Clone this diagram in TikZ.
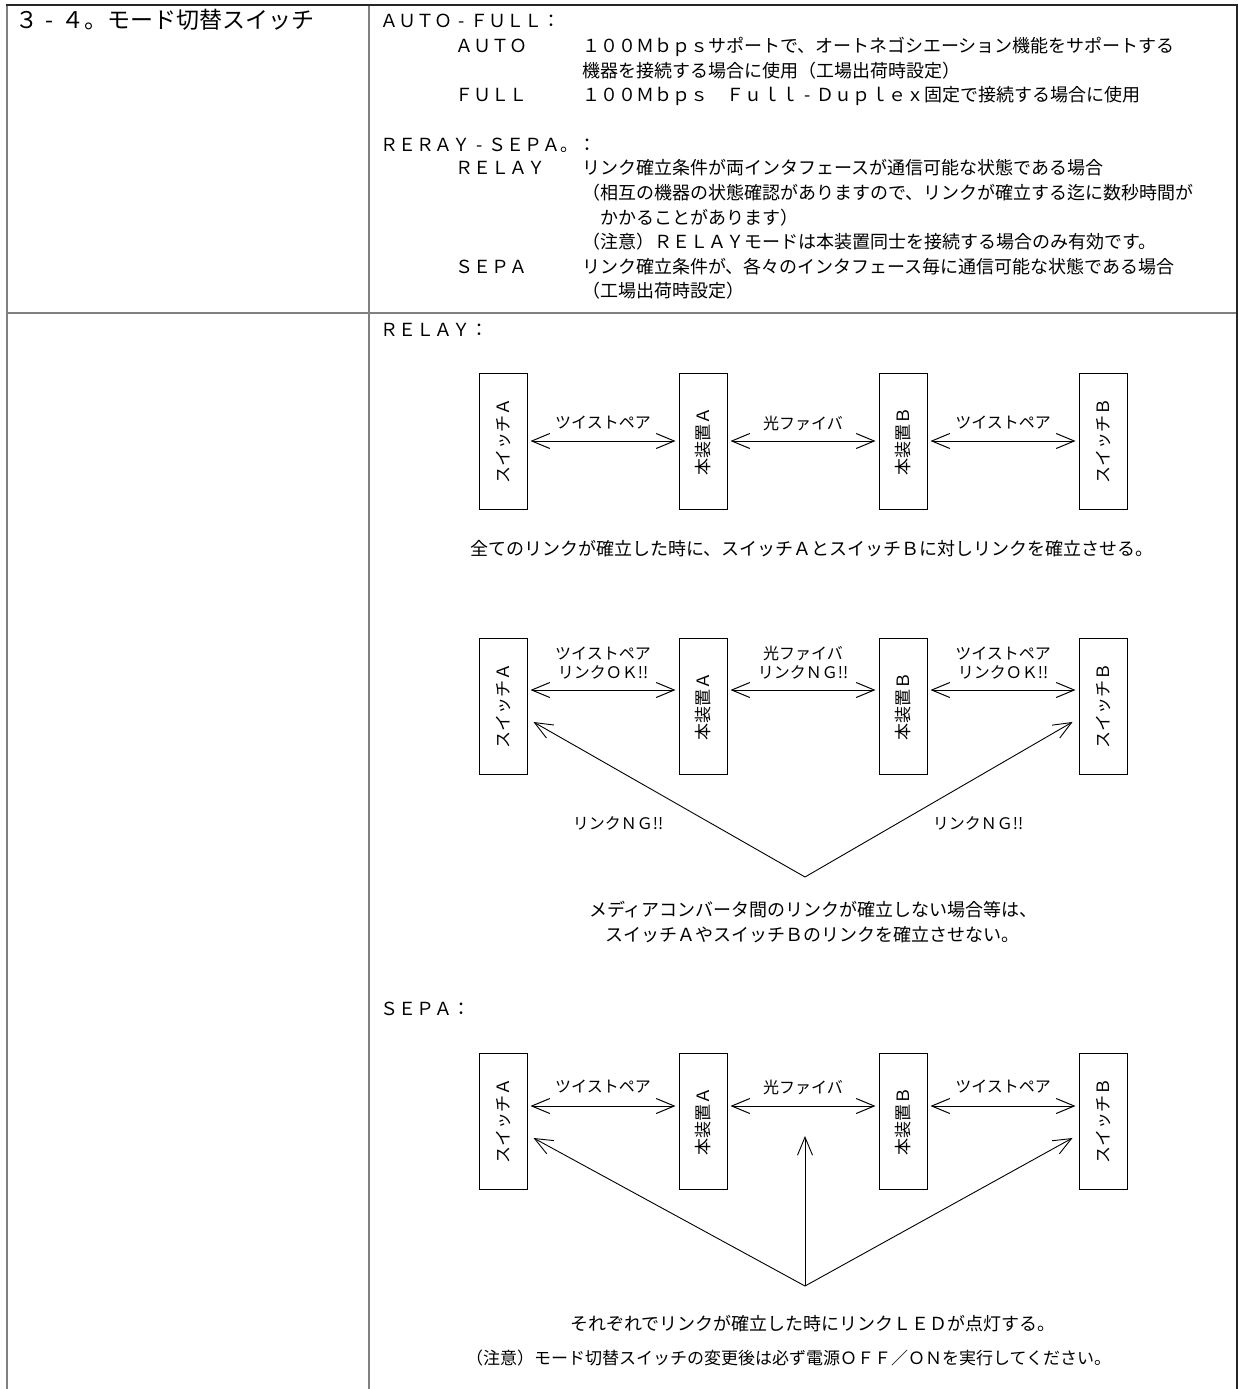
\documentclass[tikz,border=0pt]{standalone}
\usepackage{fontspec}
\setmainfont{Noto Sans CJK JP}
\usepackage{graphicx}
\usetikzlibrary{arrows.meta}
\newcommand{\hy}{\makebox[1em]{-}}

\begin{document}
\begin{tikzpicture}[x=1pt,y=-1pt,
  txt/.style={anchor=west,inner sep=0pt,text height=0.88em,text depth=0.12em,font=\fontsize{18pt}{22pt}\selectfont},
  lbl/.style={anchor=center,inner sep=0pt,align=center,font=\fontsize{16pt}{19pt}\selectfont},
  unit/.style={draw,line width=1pt,minimum width=48pt,minimum height=136pt,inner sep=0pt,font=\fontsize{17pt}{20pt}\selectfont},
  link/.style={line width=1pt,shorten <=3pt,shorten >=3pt,{Straight Barb[length=18pt,width=15pt]}-{Straight Barb[length=18pt,width=15pt]}},
  ray/.style={line width=0.9pt,-{Straight Barb[length=18pt,width=15pt]}},
  rule/.style={line width=2pt,draw=black!50},
  edge/.style={line width=2pt,draw=black!85}]
\useasboundingbox (0,0) rectangle (1239,1389);

% frame of the table
\draw[edge] (6,5) -- (1237,5) -- (1237,1389);
\draw[rule] (7,6) -- (7,1389);
\draw[rule] (369,6) -- (369,1389);
\draw[rule] (8,313) -- (1236,313);

% left column
\node[txt,font=\fontsize{23pt}{27pt}\selectfont] (title) at (15,25) {３\hy ４。モード切替スイッチ};

% upper right cell
\node[txt] (autofull) at (380,24) {ＡＵＴＯ\hy ＦＵＬＬ：};
\node[txt] (auto) at (455,49) {ＡＵＴＯ};
\node[txt] (autoa) at (582,49) {１００Ｍｂｐｓサポートで、オートネゴシエーション機能をサポートする};
\node[txt] (autob) at (582,74) {機器を接続する場合に使用（工場出荷時設定）};
\node[txt] (full) at (455,98) {ＦＵＬＬ};
\node[txt] (fulla) at (582,98) {１００Ｍｂｐｓ　Ｆｕｌｌ\hy Ｄｕｐｌｅｘ固定で接続する場合に使用};
\node[txt] (relaysepa) at (380,148) {ＲＥＲＡＹ\hy ＳＥＰＡ。：};
\node[txt] (relay) at (455,171) {ＲＥＬＡＹ};
\node[txt] (relaya) at (582,171) {リンク確立条件が両インタフェースが通信可能な状態である場合};
\node[txt] (relayb) at (582,196) {（相互の機器の状態確認がありますので、リンクが確立する迄に数秒時間が};
\node[txt] (relayc) at (582,221) {　かかることがあります）};
\node[txt] (relayd) at (582,245) {（注意）ＲＥＬＡＹモードは本装置同士を接続する場合のみ有効です。};
\node[txt] (sepa) at (455,270) {ＳＥＰＡ};
\node[txt] (sepaa) at (582,270) {リンク確立条件が、各々のインタフェース毎に通信可能な状態である場合};
\node[txt] (sepab) at (582,294) {（工場出荷時設定）};

% RELAY, all links up
\node[txt] (relayhead) at (380,333) {ＲＥＬＡＹ：};
\node[unit] (swA1) at (503,441) {\rotatebox{90}{スイッチＡ}};
\node[unit] (unitA1) at (703,441) {\rotatebox{90}{本装置Ａ}};
\node[unit] (unitB1) at (903,441) {\rotatebox{90}{本装置Ｂ}};
\node[unit] (swB1) at (1103,441) {\rotatebox{90}{スイッチＢ}};
\draw[link] (swA1) -- (unitA1);
\draw[link] (unitA1) -- (unitB1);
\draw[link] (unitB1) -- (swB1);
\node[lbl] (tpA1) at (603,423) {ツイストペア};
\node[lbl] (fib1) at (803,423) {光ファイバ};
\node[lbl] (tpB1) at (1003,423) {ツイストペア};
\node[txt] (note1) at (470,552) {全てのリンクが確立した時に、スイッチＡとスイッチＢに対しリンクを確立させる。};

% RELAY, fibre link down
\node[unit] (swA2) at (503,706) {\rotatebox{90}{スイッチＡ}};
\node[unit] (unitA2) at (703,706) {\rotatebox{90}{本装置Ａ}};
\node[unit] (unitB2) at (903,706) {\rotatebox{90}{本装置Ｂ}};
\node[unit] (swB2) at (1103,706) {\rotatebox{90}{スイッチＢ}};
\draw[link] ([yshift=16pt]swA2.east) -- ([yshift=16pt]unitA2.west);
\draw[link] ([yshift=16pt]unitA2.east) -- ([yshift=16pt]unitB2.west);
\draw[link] ([yshift=16pt]unitB2.east) -- ([yshift=16pt]swB2.west);
\node[lbl] (tpA2) at (603,663) {ツイストペア\\リンクＯＫ!!};
\node[lbl] (fib2) at (803,663) {光ファイバ\\リンクＮＧ!!};
\node[lbl] (tpB2) at (1003,663) {ツイストペア\\リンクＯＫ!!};
\coordinate (apex2) at (805,877);
\draw[ray] (apex2) -- ([xshift=6pt,yshift=-16pt]swA2.east);
\draw[ray] (apex2) -- ([xshift=-6pt,yshift=-16pt]swB2.west);
\node[lbl] (ngA2) at (618,823) {リンクＮＧ!!};
\node[lbl] (ngB2) at (978,823) {リンクＮＧ!!};
\node[txt] (note2a) at (589,913) {メディアコンバータ間のリンクが確立しない場合等は、};
\node[txt] (note2b) at (605,938) {スイッチＡやスイッチＢのリンクを確立させない。};

% SEPA
\node[txt] (sepahead) at (380,1012) {ＳＥＰＡ：};
\node[unit] (swA3) at (503,1121) {\rotatebox{90}{スイッチＡ}};
\node[unit] (unitA3) at (703,1121) {\rotatebox{90}{本装置Ａ}};
\node[unit] (unitB3) at (903,1121) {\rotatebox{90}{本装置Ｂ}};
\node[unit] (swB3) at (1103,1121) {\rotatebox{90}{スイッチＢ}};
\draw[link] ([yshift=15pt]swA3.east) -- ([yshift=15pt]unitA3.west);
\draw[link] ([yshift=15pt]unitA3.east) -- ([yshift=15pt]unitB3.west);
\draw[link] ([yshift=15pt]unitB3.east) -- ([yshift=15pt]swB3.west);
\node[lbl] (tpA3) at (603,1087) {ツイストペア};
\node[lbl] (fib3) at (803,1087) {光ファイバ};
\node[lbl] (tpB3) at (1003,1087) {ツイストペア};
\coordinate (apex3) at (805,1286);
\coordinate (fibtip3) at (805,1136);
\draw[ray] (apex3) -- ([xshift=6pt,yshift=-17pt]swA3.east);
\draw[ray] (apex3) -- ([xshift=-6pt,yshift=-17pt]swB3.west);
\draw[ray] (apex3) -- (fibtip3);
\node[txt] (note3) at (570,1327) {それぞれでリンクが確立した時にリンクＬＥＤが点灯する。};
\node[txt,font=\fontsize{17pt}{20pt}\selectfont] (caution) at (466,1361) {（注意）モード切替スイッチの変更後は必ず電源ＯＦＦ／ＯＮを実行してください。};
\end{tikzpicture}
\end{document}
